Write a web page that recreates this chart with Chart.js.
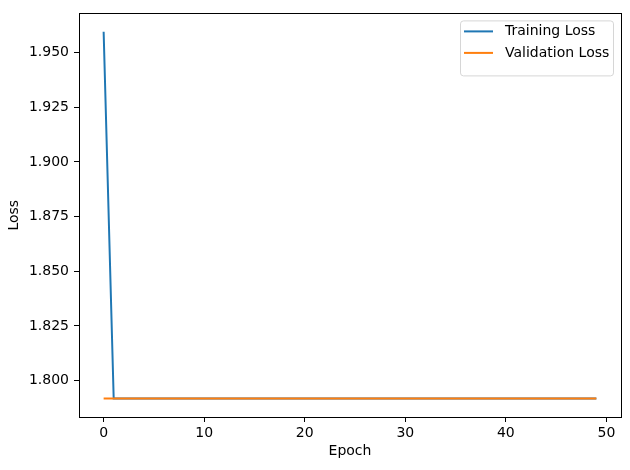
<!DOCTYPE html>
<html>
<head>
<meta charset="utf-8">
<script src="https://cdn.jsdelivr.net/npm/chart.js@4"></script>
<style>
  body { margin: 0; background: #fff; }
  #wrap { width: 630px; height: 470px; }
</style>
</head>
<body>
<div id="wrap"><canvas id="lossChart" width="630" height="470"></canvas></div>
<script>
// epochs 0..49
const epochs = [0, 1, 2, 3, 4, 5, 6, 7, 8, 9, 10, 11, 12, 13, 14, 15, 16, 17, 18, 19,
  20, 21, 22, 23, 24, 25, 26, 27, 28, 29, 30, 31, 32, 33, 34, 35, 36, 37, 38, 39,
  40, 41, 42, 43, 44, 45, 46, 47, 48, 49];

const trainLoss = [1.9595, 1.7918, 1.7918, 1.7918, 1.7918, 1.7918, 1.7918, 1.7918, 1.7918, 1.7918,
  1.7918, 1.7918, 1.7918, 1.7918, 1.7918, 1.7918, 1.7918, 1.7918, 1.7918, 1.7918,
  1.7918, 1.7918, 1.7918, 1.7918, 1.7918, 1.7918, 1.7918, 1.7918, 1.7918, 1.7918,
  1.7918, 1.7918, 1.7918, 1.7918, 1.7918, 1.7918, 1.7918, 1.7918, 1.7918, 1.7918,
  1.7918, 1.7918, 1.7918, 1.7918, 1.7918, 1.7918, 1.7918, 1.7918, 1.7918, 1.7918];

const valLoss = [1.7918, 1.7918, 1.7918, 1.7918, 1.7918, 1.7918, 1.7918, 1.7918, 1.7918, 1.7918,
  1.7918, 1.7918, 1.7918, 1.7918, 1.7918, 1.7918, 1.7918, 1.7918, 1.7918, 1.7918,
  1.7918, 1.7918, 1.7918, 1.7918, 1.7918, 1.7918, 1.7918, 1.7918, 1.7918, 1.7918,
  1.7918, 1.7918, 1.7918, 1.7918, 1.7918, 1.7918, 1.7918, 1.7918, 1.7918, 1.7918,
  1.7918, 1.7918, 1.7918, 1.7918, 1.7918, 1.7918, 1.7918, 1.7918, 1.7918, 1.7918];

const xTicks = [0, 10, 20, 30, 40, 50];
const yTicks = [1.800, 1.825, 1.850, 1.875, 1.900, 1.925, 1.950];

const FONT = 'DejaVu Sans';

function toPoints(ys) {
  let pts = [];
  for (let i = 0; i < epochs.length; i++) {
    pts.push({x: epochs[i], y: ys[i]});
  }
  return pts;
}

// top/right spines (matplotlib box)
const frame = {
  id: 'frame',
  afterDraw(chart) {
    const a = chart.chartArea;
    const ctx = chart.ctx;
    ctx.save();
    ctx.strokeStyle = '#000';
    ctx.lineWidth = 1;
    ctx.strokeRect(Math.round(a.left) + 0.5, Math.round(a.top) + 0.5,
      Math.round(a.right - a.left), Math.round(a.bottom - a.top));
    ctx.restore();
  }
};

// legend drawn like matplotlib's upper right box
const mplLegend = {
  id: 'mplLegend',
  afterDraw(chart) {
    const ctx = chart.ctx;
    const a = chart.chartArea;
    const sets = chart.data.datasets;
    const w = 153, rowH = 21.5;
    const h = 12 + rowH * sets.length;
    const x = a.right - 8 - w;
    const y = a.top + 7;
    ctx.save();
    ctx.beginPath();
    ctx.roundRect(x + 0.5, y + 0.5, w, h, 3);
    ctx.fillStyle = 'rgba(255,255,255,0.8)';
    ctx.fill();
    ctx.strokeStyle = '#d6d6d6';
    ctx.lineWidth = 1;
    ctx.stroke();
    ctx.font = '14px "' + FONT + '"';
    ctx.textBaseline = 'middle';
    sets.forEach((ds, i) => {
      const cy = y + 11 + i * rowH;
      ctx.strokeStyle = ds.borderColor;
      ctx.lineWidth = 2;
      ctx.beginPath();
      ctx.moveTo(x + 4, cy);
      ctx.lineTo(x + 33, cy);
      ctx.stroke();
      ctx.fillStyle = '#000';
      ctx.fillText(ds.label, x + 45, cy);
    });
    ctx.restore();
  }
};

const chart = new Chart(document.getElementById('lossChart'), {
  type: 'line',
  data: {
    datasets: [
      {
        label: 'Training Loss',
        data: toPoints(trainLoss),
        borderColor: '#1f77b4',
        borderWidth: 2,
        pointRadius: 0,
        tension: 0,
        order: 2
      },
      {
        label: 'Validation Loss',
        data: toPoints(valLoss),
        borderColor: '#ff7f0e',
        borderWidth: 2,
        pointRadius: 0,
        tension: 0,
        order: 1
      }
    ]
  },
  options: {
    responsive: false,
    animation: false,
    layout: { padding: { top: 10, right: 9, left: 0, bottom: 0 } },
    plugins: {
      legend: { display: false },
      tooltip: { enabled: false }
    },
    scales: {
      x: {
        type: 'linear',
        min: -2.45,
        max: 51.45,
        afterBuildTicks(scale) { scale.ticks = xTicks.map(v => ({value: v})); },
        afterFit(scale) { scale.height = 53; },
        grid: { drawOnChartArea: false, color: '#000', tickLength: 5, tickWidth: 1 },
        border: { color: '#000', width: 1 },
        ticks: { color: '#000', font: { family: FONT, size: 14 }, padding: 3, maxRotation: 0,
          callback: v => String(v) },
        title: { display: true, text: 'Epoch', color: '#000', font: { family: FONT, size: 14 },
          padding: { top: 0, bottom: 10 } }
      },
      y: {
        type: 'linear',
        min: 1.7834,
        max: 1.9679,
        afterBuildTicks(scale) { scale.ticks = yTicks.map(v => ({value: v})); },
        afterFit(scale) { scale.width = 79; },
        grid: { drawOnChartArea: false, color: '#000', tickLength: 5, tickWidth: 1 },
        border: { color: '#000', width: 1 },
        ticks: { color: '#000', font: { family: FONT, size: 14 }, padding: 5,
          callback: v => v.toFixed(3) },
        title: { display: true, text: 'Loss', color: '#000', font: { family: FONT, size: 14 },
          padding: { top: 6, bottom: 0 } }
      }
    }
  },
  plugins: [frame, mplLegend]
});
</script>
</body>
</html>
